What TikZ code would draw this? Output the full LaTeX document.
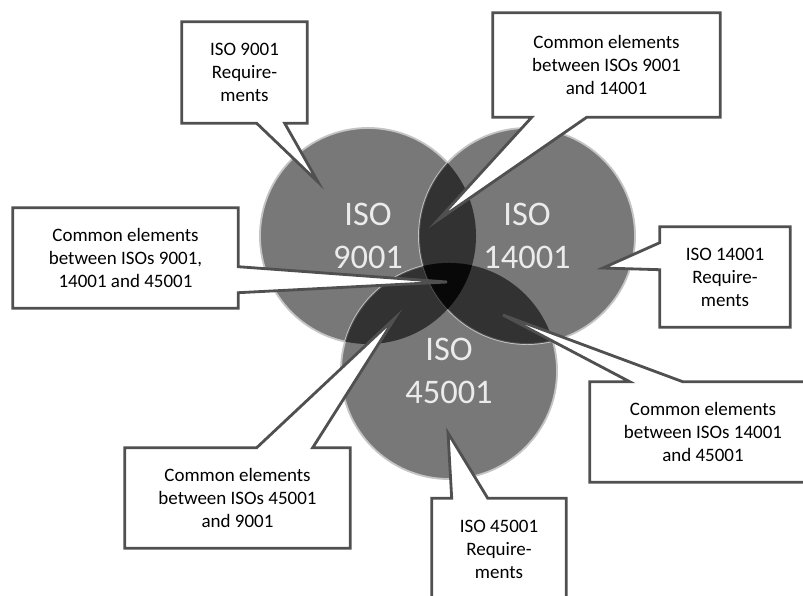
\documentclass[tikz,border=0pt]{standalone}
\usepackage{fontspec}
\setmainfont{Carlito}
\usetikzlibrary{calc}
\pgfdeclarelayer{venn}
\pgfdeclarelayer{callouts}
\pgfsetlayers{venn,callouts,main}
\definecolor{discgray}{RGB}{120,120,120}
\definecolor{rimgray}{RGB}{196,196,196}
\definecolor{boxline}{RGB}{80,80,80}

\tikzset{
  iso/.style={circle, minimum size=5.4cm, inner sep=0pt, fill=discgray, draw=rimgray,
    line width=1.3pt, text=white!92!black, align=center, font=\fontsize{24.5}{30}\selectfont},
  req/.style={align=center, inner sep=0pt, font=\fontsize{13.5}{16.4}\selectfont},
  balloon/.style={fill=white, draw=boxline, line width=2pt},
  overlap/.style={fill=black, fill opacity=0.58},
}

\begin{document}
\begin{tikzpicture}[x=0.025cm, y=-0.025cm]
\clip (0,0) rectangle (803,596);

% the three standards
\begin{pgfonlayer}{venn}
\node[iso] (q) at (368,236) {ISO\\9001};
\node[iso] (h) at (449,371) {ISO\\45001};
\node[iso] (e) at (527,236) {ISO\\14001};
\begin{scope}
\clip (q.center) circle[radius=2.7cm];
\fill[overlap] (e.center) circle[radius=2.7cm];
\fill[overlap] (h.center) circle[radius=2.7cm];
\end{scope}
\begin{scope}
\clip (e.center) circle[radius=2.7cm];
\fill[overlap] (h.center) circle[radius=2.7cm];
\end{scope}
\end{pgfonlayer}

% pointer tips
\coordinate (t9) at (318,182);
\coordinate (t914) at (438,220);
\coordinate (tall) at (447,282);
\coordinate (t14) at (603,268);
\coordinate (t1445) at (503,315);
\coordinate (t459) at (395,318);
\coordinate (t45) at (448,433);

% texts
\node[req, minimum width=3.125cm, minimum height=2.525cm] (r9) at (244.5,72.5) {ISO 9001\\Require-\\ments};
\node[req, minimum width=5.675cm, minimum height=2.6cm] (c914) at (606.5,65) {Common elements\\between ISOs 9001\\and 14001};
\node[req, minimum width=5.625cm, minimum height=2.5cm] (call) at (125.5,258) {Common elements\\between ISOs 9001,\\14001 and 45001};
\node[req, minimum width=3.25cm, minimum height=2.5cm] (r14) at (725,277) {ISO 14001\\Require-\\ments};
\node[req, minimum width=5.65cm, minimum height=2.5cm] (c1445) at (703,432) {Common elements\\between ISOs 14001\\and 45001};
\node[req, minimum width=5.625cm, minimum height=2.5cm] (c459) at (237.5,498) {Common elements\\between ISOs 45001\\and 9001};
\node[req, minimum width=3.35cm, minimum height=2.525cm] (r45) at (499,549) {ISO 45001\\Require-\\ments};

% callout outlines
\begin{pgfonlayer}{callouts}
\draw[balloon] (r9.north west) -- (r9.north east) -- (r9.south east)
  -- ($(r9.south west)+(103,0)$) -- (t9) -- ($(r9.south west)+(75,0)$) -- (r9.south west) -- cycle;
\draw[balloon] (c914.north west) -- (c914.north east) -- (c914.south east)
  -- ($(c914.south west)+(94,0)$) -- (t914) -- ($(c914.south west)+(39,0)$) -- (c914.south west) -- cycle;
\draw[balloon] (call.north west) -- (call.north east) -- ($(call.north east)+(0,59)$)
  -- (tall) -- ($(call.north east)+(0,85)$) -- (call.south east) -- (call.south west) -- cycle;
\draw[balloon] (r14.north west) -- (r14.north east) -- (r14.south east) -- (r14.south west)
  -- ($(r14.north west)+(0,43)$) -- (t14) -- ($(r14.north west)+(0,16)$) -- cycle;
\draw[balloon] (c1445.north west) -- ($(c1445.north west)+(40,0)$) -- (t1445)
  -- ($(c1445.north west)+(93,0)$) -- (c1445.north east) -- (c1445.south east) -- (c1445.south west) -- cycle;
\draw[balloon] (c459.north west) -- ($(c459.north west)+(132,0)$) -- (t459)
  -- ($(c459.north west)+(188,0)$) -- (c459.north east) -- (c459.south east) -- (c459.south west) -- cycle;
\draw[balloon] (r45.north west) -- ($(r45.north west)+(20,0)$) -- (t45)
  -- ($(r45.north west)+(56,0)$) -- (r45.north east) -- (r45.south east) -- (r45.south west) -- cycle;
\end{pgfonlayer}

\end{tikzpicture}
\end{document}
